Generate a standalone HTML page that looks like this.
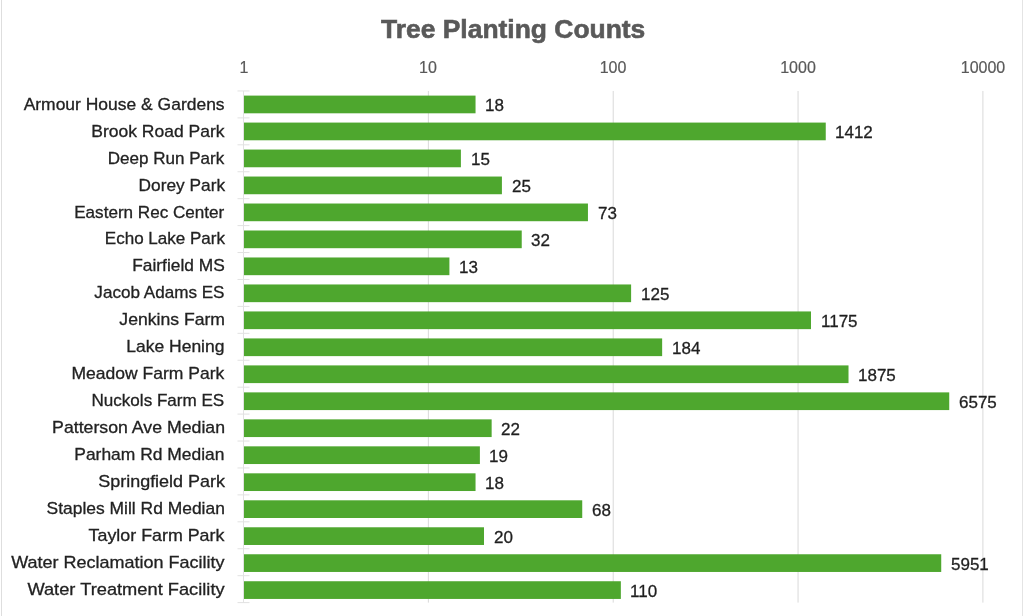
<!DOCTYPE html><html><head><meta charset="utf-8"><style>
html,body{margin:0;padding:0;width:1024px;height:616px;overflow:hidden;background:#fff;}
body{position:relative;font-family:"Liberation Sans",sans-serif;}
.t{position:absolute;white-space:nowrap;line-height:1;will-change:transform;}
.c{color:#222222;font-size:17px;transform-origin:100% 0;-webkit-text-stroke:0.3px #222222;}
.d{color:#1f1f1f;font-size:17px;transform-origin:0 0;-webkit-text-stroke:0.3px #1f1f1f;}
.a{color:#595959;font-size:16px;-webkit-text-stroke:0.2px #595959;}
#w{position:absolute;left:0;top:0;width:1024px;height:616px;filter:blur(0.45px);}
</style></head><body><div id="w">
<div style="position:absolute;left:1px;top:0;width:1px;height:616px;background:#DEDEDE"></div>
<div style="position:absolute;left:1022px;top:0;width:1px;height:616px;background:#E4E4E4"></div>
<svg width="1024" height="616" style="position:absolute;left:0;top:0"><rect x="427.85" y="90.96" width="1" height="511.64" fill="#D9D9D9"/><rect x="612.70" y="90.96" width="1" height="511.64" fill="#D9D9D9"/><rect x="797.55" y="90.96" width="1" height="511.64" fill="#D9D9D9"/><rect x="982.40" y="90.96" width="1" height="511.64" fill="#D9D9D9"/><rect x="243.50" y="95.60" width="232.04" height="17.70" fill="#4EA72E"/><rect x="243.50" y="122.58" width="582.25" height="17.70" fill="#4EA72E"/><rect x="243.50" y="149.56" width="217.40" height="17.70" fill="#4EA72E"/><rect x="243.50" y="176.54" width="258.41" height="17.70" fill="#4EA72E"/><rect x="243.50" y="203.52" width="344.44" height="17.70" fill="#4EA72E"/><rect x="243.50" y="230.50" width="278.23" height="17.70" fill="#4EA72E"/><rect x="243.50" y="257.48" width="205.91" height="17.70" fill="#4EA72E"/><rect x="243.50" y="284.46" width="387.61" height="17.70" fill="#4EA72E"/><rect x="243.50" y="311.44" width="567.50" height="17.70" fill="#4EA72E"/><rect x="243.50" y="338.42" width="418.65" height="17.70" fill="#4EA72E"/><rect x="243.50" y="365.40" width="605.01" height="17.70" fill="#4EA72E"/><rect x="243.50" y="392.38" width="705.74" height="17.70" fill="#4EA72E"/><rect x="243.50" y="419.36" width="248.15" height="17.70" fill="#4EA72E"/><rect x="243.50" y="446.34" width="236.38" height="17.70" fill="#4EA72E"/><rect x="243.50" y="473.32" width="232.04" height="17.70" fill="#4EA72E"/><rect x="243.50" y="500.30" width="338.74" height="17.70" fill="#4EA72E"/><rect x="243.50" y="527.28" width="240.50" height="17.70" fill="#4EA72E"/><rect x="243.50" y="554.26" width="697.73" height="17.70" fill="#4EA72E"/><rect x="243.50" y="581.24" width="377.35" height="17.70" fill="#4EA72E"/><rect x="243.00" y="90.96" width="1" height="511.64" fill="#E2E2E2"/><rect x="237.50" y="90.46" width="12" height="1" fill="#E2E2E2"/><rect x="237.50" y="117.39" width="12" height="1" fill="#E2E2E2"/><rect x="237.50" y="144.32" width="12" height="1" fill="#E2E2E2"/><rect x="237.50" y="171.25" width="12" height="1" fill="#E2E2E2"/><rect x="237.50" y="198.17" width="12" height="1" fill="#E2E2E2"/><rect x="237.50" y="225.10" width="12" height="1" fill="#E2E2E2"/><rect x="237.50" y="252.03" width="12" height="1" fill="#E2E2E2"/><rect x="237.50" y="278.96" width="12" height="1" fill="#E2E2E2"/><rect x="237.50" y="305.89" width="12" height="1" fill="#E2E2E2"/><rect x="237.50" y="332.82" width="12" height="1" fill="#E2E2E2"/><rect x="237.50" y="359.74" width="12" height="1" fill="#E2E2E2"/><rect x="237.50" y="386.67" width="12" height="1" fill="#E2E2E2"/><rect x="237.50" y="413.60" width="12" height="1" fill="#E2E2E2"/><rect x="237.50" y="440.53" width="12" height="1" fill="#E2E2E2"/><rect x="237.50" y="467.46" width="12" height="1" fill="#E2E2E2"/><rect x="237.50" y="494.39" width="12" height="1" fill="#E2E2E2"/><rect x="237.50" y="521.31" width="12" height="1" fill="#E2E2E2"/><rect x="237.50" y="548.24" width="12" height="1" fill="#E2E2E2"/><rect x="237.50" y="575.17" width="12" height="1" fill="#E2E2E2"/><rect x="237.50" y="602.10" width="12" height="1" fill="#E2E2E2"/></svg>
<div class="t" style="left:380.50px;top:15.59px;font-size:26px;font-weight:bold;color:#595959;-webkit-text-stroke:0.6px #595959;transform:scaleX(1.0165);transform-origin:0 0">Tree Planting Counts</div>
<div class="t a" style="left:143.50px;width:200px;text-align:center;top:60.46px;transform:scaleX(1.0)">1</div>
<div class="t a" style="left:328.35px;width:200px;text-align:center;top:60.46px;transform:scaleX(1.0)">10</div>
<div class="t a" style="left:513.20px;width:200px;text-align:center;top:60.46px;transform:scaleX(1.0)">100</div>
<div class="t a" style="left:698.05px;width:200px;text-align:center;top:60.46px;transform:scaleX(1.0)">1000</div>
<div class="t a" style="left:882.90px;width:200px;text-align:center;top:60.46px;transform:scaleX(1.0)">10000</div>
<div class="t c" style="right:799.40px;top:95.71px;transform:scaleX(1.0274)">Armour House &amp; Gardens</div>
<div class="t c" style="right:799.40px;top:122.66px;transform:scaleX(1.0292)">Brook Road Park</div>
<div class="t c" style="right:799.40px;top:149.61px;transform:scaleX(1.0024)">Deep Run Park</div>
<div class="t c" style="right:799.40px;top:176.56px;transform:scaleX(1.0166)">Dorey Park</div>
<div class="t c" style="right:799.40px;top:203.51px;transform:scaleX(1.0055)">Eastern Rec Center</div>
<div class="t c" style="right:799.40px;top:230.46px;transform:scaleX(1.0017)">Echo Lake Park</div>
<div class="t c" style="right:799.40px;top:257.41px;transform:scaleX(1.0193)">Fairfield MS</div>
<div class="t c" style="right:799.40px;top:284.36px;transform:scaleX(1.005)">Jacob Adams ES</div>
<div class="t c" style="right:799.40px;top:311.31px;transform:scaleX(1.0358)">Jenkins Farm</div>
<div class="t c" style="right:799.40px;top:338.26px;transform:scaleX(1.0286)">Lake Hening</div>
<div class="t c" style="right:799.40px;top:365.21px;transform:scaleX(1.0305)">Meadow Farm Park</div>
<div class="t c" style="right:799.40px;top:392.16px;transform:scaleX(1.004)">Nuckols Farm ES</div>
<div class="t c" style="right:799.40px;top:419.11px;transform:scaleX(1.0417)">Patterson Ave Median</div>
<div class="t c" style="right:799.40px;top:446.06px;transform:scaleX(1.0254)">Parham Rd Median</div>
<div class="t c" style="right:799.40px;top:473.01px;transform:scaleX(1.0566)">Springfield Park</div>
<div class="t c" style="right:799.40px;top:499.96px;transform:scaleX(1.0256)">Staples Mill Rd Median</div>
<div class="t c" style="right:799.40px;top:526.91px;transform:scaleX(1.0496)">Taylor Farm Park</div>
<div class="t c" style="right:799.40px;top:553.86px;transform:scaleX(1.0589)">Water Reclamation Facility</div>
<div class="t c" style="right:799.40px;top:580.81px;transform:scaleX(1.074)">Water Treatment Facility</div>
<div class="t d" style="left:485.14px;top:97.11px;transform:scaleX(1.0)">18</div>
<div class="t d" style="left:835.35px;top:124.08px;transform:scaleX(1.0)">1412</div>
<div class="t d" style="left:470.50px;top:151.04px;transform:scaleX(1.0)">15</div>
<div class="t d" style="left:511.51px;top:178.01px;transform:scaleX(1.0)">25</div>
<div class="t d" style="left:597.54px;top:204.98px;transform:scaleX(1.0)">73</div>
<div class="t d" style="left:531.33px;top:231.94px;transform:scaleX(1.0)">32</div>
<div class="t d" style="left:459.01px;top:258.91px;transform:scaleX(1.0)">13</div>
<div class="t d" style="left:640.71px;top:285.88px;transform:scaleX(1.0)">125</div>
<div class="t d" style="left:820.60px;top:312.85px;transform:scaleX(1.0)">1175</div>
<div class="t d" style="left:671.75px;top:339.81px;transform:scaleX(1.0)">184</div>
<div class="t d" style="left:858.11px;top:366.78px;transform:scaleX(1.0)">1875</div>
<div class="t d" style="left:958.84px;top:393.75px;transform:scaleX(1.0)">6575</div>
<div class="t d" style="left:501.25px;top:420.71px;transform:scaleX(1.0)">22</div>
<div class="t d" style="left:489.48px;top:447.68px;transform:scaleX(1.0)">19</div>
<div class="t d" style="left:485.14px;top:474.65px;transform:scaleX(1.0)">18</div>
<div class="t d" style="left:591.84px;top:501.61px;transform:scaleX(1.0)">68</div>
<div class="t d" style="left:493.60px;top:528.58px;transform:scaleX(1.0)">20</div>
<div class="t d" style="left:950.83px;top:555.55px;transform:scaleX(1.0)">5951</div>
<div class="t d" style="left:630.45px;top:582.52px;transform:scaleX(1.0)">110</div>
</div></body></html>
